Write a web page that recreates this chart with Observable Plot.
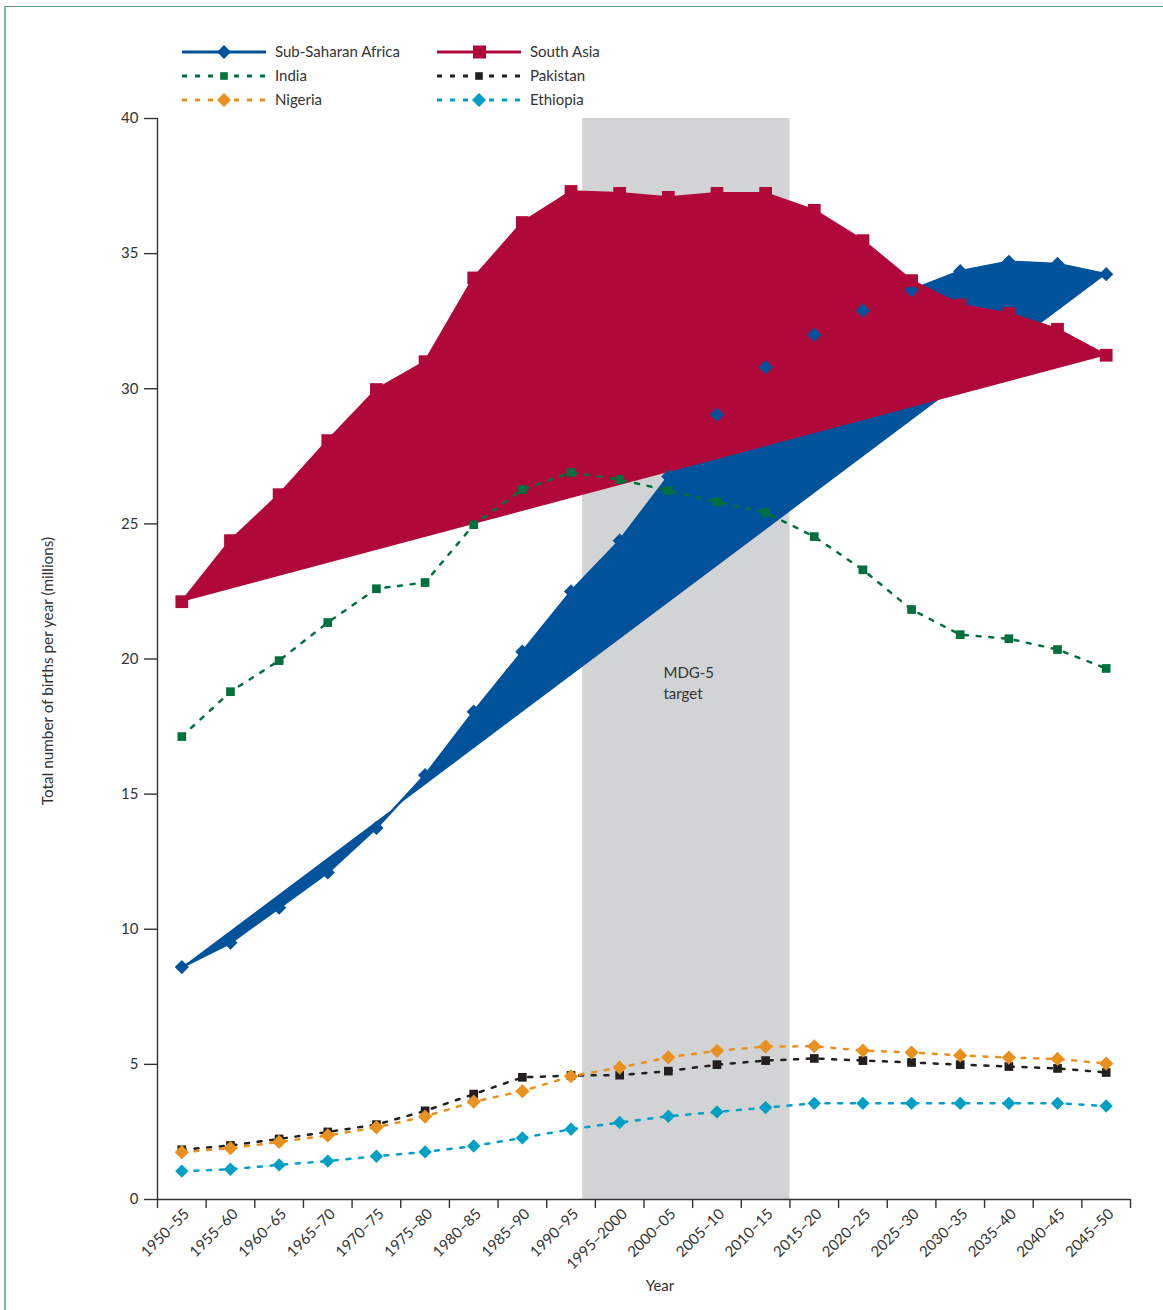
<!DOCTYPE html>
<html>
<head>
<meta charset="utf-8">
<script src="https://cdn.jsdelivr.net/npm/d3@7"></script>
<script src="https://cdn.jsdelivr.net/npm/@observablehq/plot@0.6"></script>
<style>
  html, body { margin: 0; padding: 0; background: #fff; }
  #wrap { position: relative; width: 1163px; height: 1310px; overflow: hidden; font-family: Lato, "Noto Sans", sans-serif; }
  #border { position: absolute; left: 4px; top: 6px; right: -10px; bottom: -10px; border-left: 2px solid #7db99c; border-top: 1.5px solid #5f9f80; pointer-events: none; }
  #legend { position: absolute; left: 0; top: 0; }
  #chart { position: absolute; left: 0; top: 0; }
</style>
</head>
<body>
<div id="wrap">
  <div id="chart"></div>
  <svg id="legend" width="700" height="115"></svg>
  <div id="border"></div>
</div>
<script>
// ---- data (millions of births per year) ----
const periods = ["1950–55","1955–60","1960–65","1965–70","1970–75","1975–80","1980–85","1985–90","1990–95","1995–2000",
                 "2000–05","2005–10","2010–15","2015–20","2020–25","2025–30","2030–35","2035–40","2040–45","2045–50"];
const xTickYears = [1950,1955,1960,1965,1970,1975,1980,1985,1990,1995,2000,2005,2010,2015,2020,2025,2030,2035,2040,2045,2050];
const yTicks = [0,5,10,15,20,25,30,35,40];

const subSaharanAfrica = [8.6,9.5,10.8,12.1,13.75,15.7,18.05,20.27,22.5,24.38,26.75,29.04,30.8,32.0,32.9,33.65,34.35,34.7,34.62,34.24];
const southAsia        = [22.12,24.38,26.08,28.08,29.97,31.0,34.1,36.15,37.3,37.23,37.08,37.23,37.23,36.6,35.48,34.0,33.1,32.78,32.2,31.24];
const india            = [17.13,18.79,19.94,21.35,22.6,22.83,24.97,26.27,26.9,26.64,26.23,25.82,25.42,24.53,23.3,21.83,20.9,20.75,20.35,19.65];
const pakistan         = [1.84,2.0,2.24,2.5,2.77,3.28,3.9,4.52,4.59,4.6,4.75,4.99,5.14,5.22,5.14,5.07,4.99,4.92,4.85,4.7];
const nigeria          = [1.75,1.9,2.13,2.37,2.67,3.07,3.62,4.01,4.56,4.88,5.26,5.5,5.66,5.67,5.51,5.44,5.33,5.25,5.2,5.03];
const ethiopia         = [1.05,1.12,1.28,1.42,1.6,1.76,1.98,2.28,2.6,2.85,3.08,3.24,3.4,3.56,3.56,3.56,3.56,3.56,3.56,3.46];

const mdgStart = 1993.7, mdgEnd = 2015;

// ---- helpers ----
const midYear = p => +p.slice(0, 4) + 2.5;
const midYears = periods.map(midYear);
const labelByMid = new Map(periods.map(p => [midYear(p), p]));
const rows = vals => periods.map((p, i) => ({year: midYear(p), value: vals[i]}));

const C = {
  ssa: "#00539b", sa: "#b00839", india: "#00703c",
  pak: "#231f20", nga: "#e8911e", eth: "#00a0c6"
};
const dash = "4 8.7";
const FONT = "Lato, 'Noto Sans', sans-serif";

const chart = Plot.plot({
  width: 1163,
  height: 1310,
  marginLeft: 157,
  marginRight: 33,
  marginTop: 118,
  marginBottom: 111,
  style: {fontFamily: FONT, fontSize: "15px", color: "#333", background: "transparent"},
  x: {type: "linear", domain: [1950, 2050]},
  y: {domain: [0, 40]},
  marks: [
    Plot.rect([{a: mdgStart, b: mdgEnd}], {x1: "a", x2: "b", y1: 0, y2: 40, fill: "#d1d3d4"}),
    Plot.text(["MDG-5\ntarget"], {x: 2002, y: 19.15, textAnchor: "start", lineAnchor: "middle", fill: "#333", fontSize: 15, lineHeight: 1.4}),

    Plot.line(rows(subSaharanAfrica), {x: "year", y: "value", stroke: C.ssa, fill: C.ssa, strokeWidth: 2.5}),
    Plot.line(rows(southAsia), {x: "year", y: "value", stroke: C.sa, fill: C.sa, strokeWidth: 2.5}),
    Plot.dot(rows(subSaharanAfrica), {x: "year", y: "value", symbol: "diamond2", r: 6.4, fill: C.ssa, stroke: "none"}),
    Plot.dot(rows(southAsia), {x: "year", y: "value", symbol: "square", r: 7.2, fill: C.sa, stroke: "none"}),

    Plot.line(rows(india), {x: "year", y: "value", stroke: C.india, strokeWidth: 2.5, strokeDasharray: dash}),
    Plot.dot(rows(india), {x: "year", y: "value", symbol: "square", r: 4.9, fill: C.india, stroke: "none"}),

    Plot.line(rows(pakistan), {x: "year", y: "value", stroke: C.pak, strokeWidth: 2.5, strokeDasharray: dash}),
    Plot.dot(rows(pakistan), {x: "year", y: "value", symbol: "square", r: 4.9, fill: C.pak, stroke: "none"}),

    Plot.line(rows(nigeria), {x: "year", y: "value", stroke: C.nga, strokeWidth: 2.5, strokeDasharray: dash}),
    Plot.dot(rows(nigeria), {x: "year", y: "value", symbol: "diamond2", r: 6.4, fill: C.nga, stroke: "none"}),

    Plot.line(rows(ethiopia), {x: "year", y: "value", stroke: C.eth, strokeWidth: 2.5, strokeDasharray: dash}),
    Plot.dot(rows(ethiopia), {x: "year", y: "value", symbol: "diamond2", r: 6.0, fill: C.eth, stroke: "none"}),

    // axes
    Plot.ruleX([1950], {stroke: "#333", strokeWidth: 1.4}),
    Plot.ruleY([0], {stroke: "#333", strokeWidth: 1.4}),
    Plot.axisY({ticks: yTicks, tickSize: 13, tickPadding: 6, label: null, stroke: "#333", strokeWidth: 1.4, fill: "#333", fontSize: 15}),
    Plot.axisX({ticks: xTickYears, tickSize: 9, tickFormat: () => "", label: null, stroke: "#333", strokeWidth: 1.4}),
    Plot.axisX({ticks: midYears, tickSize: 0, tickPadding: 12, tickRotate: -45, dx: 5, tickFormat: d => labelByMid.get(d), label: null, fill: "#333", fontSize: 15}),
    Plot.text(["Year"], {frameAnchor: "bottom", dx: 16, dy: 91, fill: "#333", fontSize: 15}),
    Plot.text(["Total number of births per year (millions)"], {frameAnchor: "left", textAnchor: "middle", rotate: -90, dx: -109, dy: 12, fill: "#333", fontSize: 15.3})
  ]
});
document.getElementById("chart").appendChild(chart);

// ---- legend ----
const legendItems = [
  {name: "Sub-Saharan Africa", color: C.ssa, sym: "diamond", dashed: false, col: 0, row: 0},
  {name: "South Asia", color: C.sa, sym: "bigsquare", dashed: false, col: 1, row: 0},
  {name: "India", color: C.india, sym: "square", dashed: true, col: 0, row: 1},
  {name: "Pakistan", color: C.pak, sym: "square", dashed: true, col: 1, row: 1},
  {name: "Nigeria", color: C.nga, sym: "diamond", dashed: true, col: 0, row: 2},
  {name: "Ethiopia", color: C.eth, sym: "diamond", dashed: true, col: 1, row: 2}
];
const lg = d3.select("#legend");
const colX = [182, 437], rowY = [52, 76, 100];
for (const it of legendItems) {
  const x0 = colX[it.col], y0 = rowY[it.row];
  const g = lg.append("g").attr("transform", `translate(${x0},${y0})`);
  g.append("line").attr("x1", 0).attr("x2", 84).attr("y1", 0).attr("y2", 0)
    .attr("stroke", it.color).attr("stroke-width", 2.8)
    .attr("stroke-dasharray", it.dashed ? "5 8" : null);
  if (it.sym === "diamond") {
    g.append("path").attr("d", "M42,-7L49,0L42,7L35,0Z").attr("fill", it.color);
  } else if (it.sym === "bigsquare") {
    g.append("rect").attr("x", 36).attr("y", -6.5).attr("width", 13).attr("height", 13).attr("fill", it.color);
  } else {
    g.append("rect").attr("x", 38.2).attr("y", -3.8).attr("width", 7.6).attr("height", 7.6).attr("fill", it.color);
  }
  g.append("text").attr("x", 93).attr("y", 0).attr("dy", "0.35em")
    .attr("font-family", FONT).attr("font-size", 15).attr("fill", "#333")
    .text(it.name);
}
</script>
</body>
</html>
